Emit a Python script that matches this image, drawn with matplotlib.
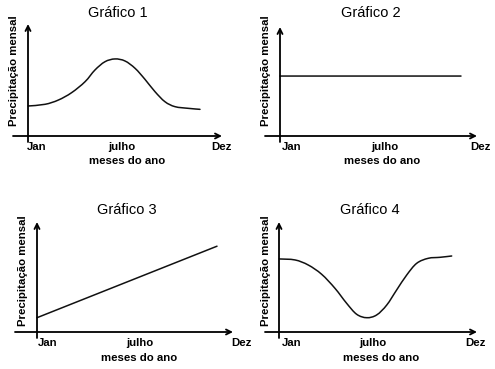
import matplotlib
matplotlib.use("Agg")
import matplotlib.pyplot as plt
from matplotlib.path import Path
from matplotlib.patches import PathPatch

W, H = 495, 369

plt.rcParams['font.family'] = ['Liberation Sans', 'DejaVu Sans']

# months (1 = Jan, 12 = Dez) and relative monthly precipitation
months1 = [1.02, 2.09, 2.94, 3.79, 4.65, 5.28, 5.92, 6.56, 7.2, 7.85, 8.48, 9.12, 9.76,
           10.4, 11.25, 12.0]
rain1 = [0.268, 0.283, 0.321, 0.387, 0.485, 0.589, 0.663, 0.688, 0.670, 0.604, 0.506,
         0.396, 0.306, 0.262, 0.247, 0.238]

months2 = [1, 12]
rain2 = [0.55, 0.55]

months3 = [1, 12]
rain3 = [0.13, 0.78]

months4 = [1.02, 2.02, 2.86, 3.71, 4.56, 5.30, 5.94, 6.58, 7.21, 7.85, 8.48, 9.12, 9.76,
           10.49, 11.24, 11.98]
rain4 = [0.664, 0.655, 0.609, 0.525, 0.397, 0.261, 0.161, 0.130, 0.155, 0.245, 0.382,
         0.518, 0.625, 0.670, 0.679, 0.691]

titles = ["Gráfico 1", "Gráfico 2", "Gráfico 3", "Gráfico 4"]
tick_labels = ["Jan", "julho", "Dez"]
xlabel = "meses do ano"
ylabel = "Precipitação mensal"

# panel geometry in pixels: origin x, origin y, x-axis start, x-axis end, y-axis top, pixel of month 12
panels = [
    dict(ox=28, oy=136, xs=13, xe=222, top=24, m12=200,
         title=(118, 13), ylab=(14, 71), jan=37, jul=122, dez=221, mes=127, ty=147, my=161),
    dict(ox=280, oy=136, xs=265, xe=477, top=27, m12=461,
         title=(371, 13), ylab=(266, 71), jan=292, jul=385, dez=480, mes=382, ty=147, my=161),
    dict(ox=37, oy=332, xs=15, xe=233, top=222, m12=217,
         title=(127, 210), ylab=(23, 271), jan=48, jul=140, dez=241, mes=139, ty=343, my=358),
    dict(ox=279, oy=332, xs=265, xe=477, top=222, m12=452,
         title=(370, 210), ylab=(266, 271), jan=292, jul=373, dez=475, mes=381, ty=343, my=358),
]
series = [(months1, rain1), (months2, rain2), (months3, rain3), (months4, rain4)]


def fx(px):
    return px / W


def fy(py):
    return 1 - py / H


def smoothPath(xs, ys):
    # catmull-rom through the read points, drawn as cubic bezier segments
    pts = list(zip(xs, ys))
    verts = [pts[0]]
    codes = [Path.MOVETO]
    for i in range(len(pts) - 1):
        p0 = pts[max(i - 1, 0)]
        p1 = pts[i]
        p2 = pts[i + 1]
        p3 = pts[min(i + 2, len(pts) - 1)]
        c1 = (p1[0] + (p2[0] - p0[0]) / 6, p1[1] + (p2[1] - p0[1]) / 6)
        c2 = (p2[0] - (p3[0] - p1[0]) / 6, p2[1] - (p3[1] - p1[1]) / 6)
        verts += [c1, c2, p2]
        codes += [Path.CURVE4] * 3
    return Path(verts, codes)


fig = plt.figure(figsize=(W / 100, H / 100), dpi=100)
fig.patch.set_facecolor("white")

for p, (mx, ry), title in zip(panels, series, titles):
    below = 6
    ax = fig.add_axes([fx(p["xs"]), fy(p["oy"] + below),
                       (p["xe"] - p["xs"]) / W, (p["oy"] + below - p["top"]) / H])
    ax.axis("off")

    def month(px):
        return 1 + (px - p["ox"]) / (p["m12"] - p["ox"]) * 11

    x0, x1 = month(p["xs"]), month(p["xe"])
    y0 = -below / (p["oy"] - p["top"])
    ax.set_xlim(x0, x1)
    ax.set_ylim(y0, 1)

    ax.add_patch(PathPatch(smoothPath(mx, ry), facecolor="none", edgecolor="#111111",
                           lw=1.1, capstyle="round", joinstyle="round"))

    arrow = dict(arrowstyle="->", color="black", lw=1.3, mutation_scale=9,
                 shrinkA=0, shrinkB=0)
    ax.annotate("", xy=(x1, 0), xytext=(x0, 0), arrowprops=arrow)
    ax.annotate("", xy=(1, 1), xytext=(1, y0), arrowprops=arrow)

    fig.text(fx(p["title"][0]), fy(p["title"][1]), title, ha="center", va="center",
             fontsize=10.5)
    fig.text(fx(p["ylab"][0]), fy(p["ylab"][1]), ylabel, ha="center", va="center",
             rotation=90, fontsize=8.2, fontweight="bold")
    for lab, key in zip(tick_labels, ["jan", "jul", "dez"]):
        fig.text(fx(p[key]), fy(p["ty"]), lab, ha="center", va="center",
                 fontsize=8.2, fontweight="bold")
    fig.text(fx(p["mes"]), fy(p["my"]), xlabel, ha="center", va="center",
             fontsize=8.2, fontweight="bold")

fig.savefig("out.png", dpi=100)
